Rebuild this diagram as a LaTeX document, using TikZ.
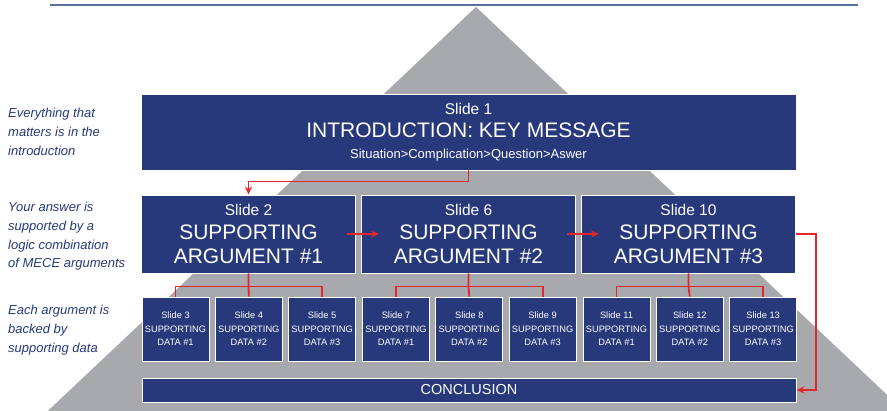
\documentclass[tikz,border=0pt]{standalone}
\usepackage{fontspec}
\setmainfont{Liberation Sans}
\usepackage{tikz}
\usetikzlibrary{arrows.meta,positioning}
\usepackage{xcolor}
\definecolor{navy}{HTML}{27397A}
\definecolor{pyramid}{HTML}{A7A9AC}
\definecolor{flowred}{HTML}{E3262D}
\definecolor{rule}{HTML}{5C6FA3}

\begin{document}
\begin{tikzpicture}[x=1pt, y=-1pt,
    keybox/.style={draw=white, line width=0.9pt, fill=navy, text=white,
                   align=center, inner sep=0pt},
    introbox/.style={keybox, minimum width=655pt, minimum height=76pt,
                     font=\fontsize{21}{22}\selectfont},
    argbox/.style={keybox, minimum width=214pt, minimum height=78pt,
                   font=\fontsize{21}{24}\selectfont},
    databox/.style={keybox, minimum width=67pt, minimum height=64pt,
                    font=\fontsize{9.3}{13.5}\selectfont},
    conclbox/.style={keybox, minimum width=654pt, minimum height=24pt,
                     font=\fontsize{14.5}{16}\selectfont},
    note_text/.style={anchor=north west, align=left, inner sep=0pt,
                      text=navy, font=\fontsize{13}{18.7}\selectfont\itshape},
    flow/.style={draw=flowred, line width=1.8pt},
    flowarrow/.style={flow, -{Stealth[length=8pt,width=7pt]}},
]
\useasboundingbox (0,0) rectangle (887,411);

% Background pyramid and top rule
\fill[pyramid] (476,7) -- (16,441) -- (936,441) -- cycle;
\draw[rule, line width=1.6pt] (50,5) -- (858,5);

% Key message
\node[introbox] (intro) at (468.5,132)
    {{\fontsize{15.5}{22}\selectfont Slide 1}\\[1pt]
     INTRODUCTION: KEY MESSAGE\\[-1pt]
     {\fontsize{13}{22}\selectfont Situation>Complication>Question>Aswer}};

% Supporting arguments
\foreach \g/\num in {1/2, 2/6, 3/10} {
    \node[argbox] (arg\g) at ({248.5+220*(\g-1)}, 234)
        {{\fontsize{15.5}{24}\selectfont Slide \num}\\SUPPORTING\\ARGUMENT \#\g};
}

% Supporting data under each argument
\foreach \g/\first in {1/3, 2/7, 3/11} {
    \foreach \i in {1,2,3} {
        \pgfmathtruncatemacro\num{\first+\i-1}
        \node[databox] (d\g\i) at ({175.5+220.5*(\g-1)+73.3*(\i-1)}, 329)
            {Slide \num\\SUPPORTING\\DATA \#\i};
    }
    \draw[flow] (arg\g.south) -- ++(0,13) coordinate (bus\g) -- (d\g2.north);
    \draw[flow] (d\g1.north) |- (bus\g) -| (d\g3.north);
}

% Conclusion
\node[conclbox] (concl) at (469,390) {CONCLUSION};

% Storyline
\draw[flowarrow] (intro.south) -- ++(0,11) -| (arg1.north);
\draw[flowarrow] ([xshift=-9pt]arg1.east) -- ([xshift=18pt]arg2.west);
\draw[flowarrow] ([xshift=-9pt]arg2.east) -- ([xshift=18pt]arg3.west);
\draw[flowarrow] (arg3.east) -- ++(20,0) |- (concl.east);

% Side notes
\node[note_text] (note1) at (8,108)
    {Everything that\\matters is in the\\introduction};
\node[note_text] (note2) at (8,202)
    {Your answer is\\supported by a\\logic combination\\of MECE arguments};
\node[note_text] (note3) at (8,305)
    {Each argument is\\backed by\\supporting data};

\end{tikzpicture}
\end{document}
